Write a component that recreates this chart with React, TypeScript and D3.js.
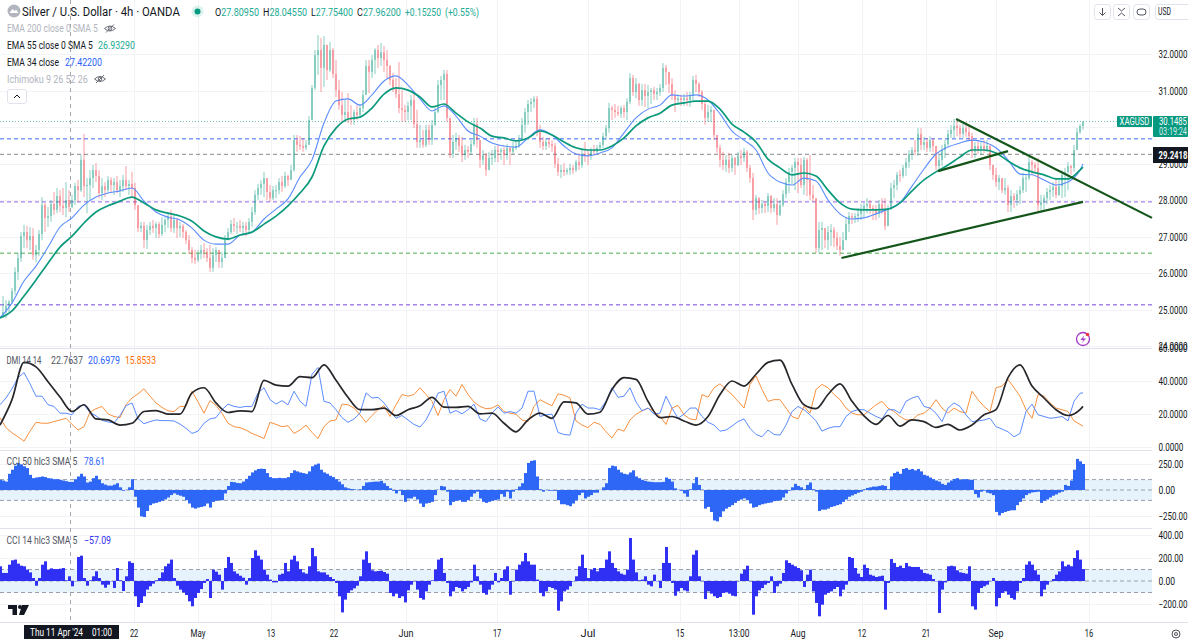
import * as d3 from 'd3';

// 4h candles, one entry per 3px column of the picture
const highs = [
  24.82,25.37,25.26,25.26,25.59,26.16,26.55,27.12,27.32,27.29,
  27.26,27.23,26.77,27.18,28.08,27.92,27.81,28.00,28.22,28.33,
  28.27,28.33,28.49,28.27,28.14,28.47,28.55,29.23,29.81,28.60,
  28.82,28.96,29.01,28.82,28.60,28.49,28.66,28.63,28.60,28.66,
  28.55,28.69,28.93,28.55,28.77,28.47,27.86,27.40,27.40,27.32,
  27.40,27.45,27.40,27.40,27.53,27.53,27.67,27.73,27.59,27.51,
  27.40,27.34,27.18,27.04,26.71,26.63,26.63,26.77,26.82,26.68,
  26.77,26.68,26.71,26.63,26.58,27.04,27.23,27.45,27.51,27.40,
  27.45,27.40,27.40,27.51,27.81,28.27,28.44,28.55,28.77,28.60,
  28.41,28.38,28.41,28.60,28.66,28.77,28.69,28.96,29.78,29.78,
  29.75,29.70,29.64,30.30,31.15,32.11,32.52,32.44,32.49,32.25,
  32.33,32.16,31.84,31.29,30.96,30.74,30.93,30.60,30.47,30.60,
  30.63,31.01,31.84,31.84,31.97,32.16,32.25,32.30,32.22,32.11,
  31.70,31.48,31.34,31.78,31.01,30.60,30.69,30.88,30.96,30.47,
  30.06,29.92,30.06,30.06,30.19,30.52,31.29,31.40,31.56,31.56,
  30.06,29.78,29.84,29.78,29.73,29.51,29.48,29.64,30.25,30.25,
  29.64,29.37,29.29,29.32,29.37,29.48,29.51,29.43,29.45,29.53,
  29.45,29.59,29.59,29.78,30.25,30.52,30.74,30.79,30.85,30.85,
  30.06,29.73,29.70,29.70,29.64,29.56,29.15,28.96,29.01,28.88,
  28.99,28.96,29.10,29.29,29.37,29.59,29.37,29.43,29.51,29.51,
  29.59,29.84,30.06,30.66,30.58,30.63,30.58,30.58,30.60,30.79,
  31.48,31.43,31.34,31.21,31.18,31.18,31.15,31.07,31.10,31.07,
  31.18,31.75,31.70,31.51,31.34,31.01,30.90,30.88,30.90,30.96,
  30.96,31.40,31.43,31.23,31.01,30.74,30.60,30.58,30.19,29.73,
  29.51,29.32,29.23,29.29,29.23,29.18,29.32,29.37,29.43,29.37,
  28.96,28.74,28.14,28.08,28.00,27.95,28.19,28.14,28.05,28.05,
  28.00,28.27,28.60,28.88,28.96,29.15,29.15,29.15,29.18,29.15,
  29.23,28.41,28.00,27.40,27.40,27.23,27.29,27.34,27.26,27.12,
  26.99,27.12,27.51,27.67,27.64,27.64,27.78,27.89,27.92,28.05,
  28.00,27.86,27.86,28.00,28.05,28.05,27.86,28.47,28.55,28.77,
  28.82,28.96,29.15,29.37,29.45,29.64,29.97,29.97,29.73,29.70,
  29.75,29.70,29.43,29.23,29.51,29.64,29.92,30.06,30.22,30.17,
  30.06,30.08,30.14,30.06,29.84,29.59,29.64,29.59,29.64,29.64,
  29.51,28.96,28.88,28.69,28.55,28.60,28.41,28.27,28.19,28.27,
  28.38,28.74,28.69,29.18,29.10,29.04,29.15,28.14,28.14,28.33,
  28.41,28.49,28.60,28.55,28.82,28.88,29.04,28.96,29.51,29.97,30.08,30.17,
];
const lows = [
  24.74,24.77,24.77,24.93,25.15,25.40,25.81,26.30,26.68,26.68,
  26.63,26.36,26.30,26.47,26.90,27.12,27.26,27.40,27.59,27.64,
  27.67,27.59,27.53,27.67,27.78,27.86,27.95,28.22,28.08,27.64,
  28.00,28.33,28.49,28.05,28.00,28.08,28.19,28.19,28.14,28.19,
  28.08,28.22,28.27,28.14,28.08,27.73,27.12,27.12,26.68,26.66,
  27.04,27.10,26.96,26.96,27.01,27.12,27.23,27.12,27.10,26.96,
  26.99,26.96,26.79,26.52,26.27,26.25,26.30,26.38,26.41,26.30,
  26.03,26.03,26.30,26.14,26.14,26.41,26.90,27.07,27.12,27.07,
  27.12,27.04,27.01,27.12,27.26,27.59,28.00,28.14,28.08,28.00,
  27.95,28.00,28.05,28.16,28.22,28.33,28.38,28.55,28.77,29.32,
  29.37,29.32,29.37,29.59,30.19,31.01,31.43,30.96,31.10,31.29,
  31.51,31.34,30.82,30.47,30.14,30.14,30.11,30.06,30.06,30.19,
  30.25,30.41,30.88,30.93,31.34,31.45,31.62,31.67,31.51,31.34,
  31.15,30.96,30.79,30.38,30.14,30.14,30.19,30.19,29.97,29.43,
  29.43,29.43,29.45,29.51,29.51,30.03,30.38,30.74,30.74,30.14,
  29.15,29.15,29.37,29.32,29.04,29.10,29.15,29.23,29.48,29.43,
  28.88,28.96,28.66,28.82,28.96,29.04,29.04,29.10,28.96,29.10,
  28.96,29.26,29.37,29.43,29.64,29.84,30.06,30.41,30.52,29.75,
  29.43,29.37,29.37,29.43,29.32,28.88,28.66,28.60,28.66,28.69,
  28.69,28.71,28.77,28.82,28.88,29.04,28.96,29.10,29.21,29.29,
  29.37,29.43,29.64,29.84,30.19,30.25,30.30,30.25,30.25,30.19,
  30.63,30.85,30.79,30.58,30.58,30.55,30.52,30.63,30.74,30.74,
  30.85,30.96,31.15,30.93,30.74,30.41,30.60,30.58,30.58,30.58,
  30.55,30.74,30.96,30.82,30.47,30.06,30.14,30.14,29.64,29.29,
  28.90,28.82,28.77,28.74,28.77,28.69,28.93,28.96,29.04,28.77,
  28.47,27.45,27.59,27.62,27.64,27.64,27.67,27.64,27.67,27.32,
  27.56,27.81,28.05,28.19,28.44,28.27,28.19,28.33,28.14,28.11,
  28.00,27.95,26.55,26.55,26.63,26.68,26.63,26.74,26.71,26.63,
  26.47,26.68,26.90,27.12,27.34,27.37,27.40,27.45,27.51,27.64,
  27.62,27.45,27.45,27.51,27.62,27.18,27.32,27.73,28.05,28.27,
  28.49,28.60,28.66,28.88,29.10,29.23,29.21,29.37,29.37,29.32,
  29.32,29.32,28.82,28.77,28.93,29.15,29.48,29.70,29.70,29.75,
  29.70,29.70,29.73,29.64,29.15,29.15,29.26,29.23,29.29,29.32,
  28.82,28.55,28.36,28.27,28.19,28.14,27.67,27.67,27.78,27.84,
  27.89,28.19,28.22,28.55,28.69,28.74,27.67,27.67,27.73,27.89,
  28.00,28.08,28.05,28.11,28.05,28.08,28.27,28.69,28.77,29.37,29.81,29.92,
];
const closes = [
  24.79,24.93,25.10,25.21,25.51,26.03,26.41,27.01,27.12,26.90,
  27.01,26.49,26.63,27.07,27.86,27.51,27.56,27.89,27.73,28.11,
  27.84,27.78,28.00,27.81,28.00,28.38,28.27,29.10,28.38,28.41,
  28.60,28.82,28.66,28.19,28.38,28.27,28.55,28.41,28.49,28.27,
  28.38,28.55,28.38,28.44,28.33,27.86,27.23,27.29,26.90,27.18,
  27.29,27.23,27.34,27.07,27.32,27.45,27.56,27.23,27.45,27.23,
  27.29,27.12,26.90,26.63,26.41,26.36,26.52,26.63,26.58,26.41,
  26.14,26.49,26.63,26.30,26.41,26.90,27.12,27.34,27.29,27.29,
  27.23,27.29,27.18,27.40,27.67,28.14,28.33,28.44,28.60,28.22,
  28.05,28.27,28.27,28.49,28.38,28.66,28.55,28.82,29.64,29.51,
  29.48,29.43,29.51,30.19,31.07,31.97,32.11,31.62,32.25,31.56,
  32.11,31.45,31.01,30.60,30.33,30.41,30.25,30.19,30.41,30.33,
  30.52,30.88,31.67,31.51,31.84,32.11,31.89,32.05,31.84,31.67,
  31.29,31.07,30.90,30.52,30.47,30.41,30.58,30.74,30.08,29.59,
  29.64,29.51,29.92,29.64,30.06,30.41,31.15,31.29,31.45,30.25,
  29.26,29.59,29.70,29.48,29.23,29.37,29.32,29.53,30.08,29.64,
  29.10,29.23,28.82,29.15,29.15,29.37,29.32,29.37,29.23,29.43,
  29.32,29.43,29.48,29.64,30.06,30.41,30.63,30.69,30.77,29.92,
  29.59,29.48,29.59,29.53,29.48,28.99,28.77,28.82,28.77,28.82,
  28.88,28.82,29.04,28.96,29.26,29.23,29.21,29.37,29.32,29.43,
  29.51,29.75,29.97,30.52,30.47,30.41,30.36,30.52,30.41,30.69,
  31.34,30.96,31.18,30.74,31.01,30.85,30.96,31.01,30.90,30.96,
  31.07,31.62,31.51,31.18,30.85,30.74,30.79,30.74,30.79,30.74,
  30.85,31.29,31.18,30.96,30.63,30.25,30.41,30.47,29.78,29.43,
  29.10,28.96,29.10,28.88,29.15,28.96,29.21,29.15,29.32,28.88,
  28.60,27.73,28.05,27.78,27.89,27.84,28.11,27.78,27.89,27.59,
  27.86,28.16,28.49,28.77,28.88,29.04,28.96,28.41,29.10,28.55,
  28.14,28.05,26.68,27.18,27.23,26.90,27.12,27.18,26.96,26.74,
  26.63,26.90,27.34,27.56,27.51,27.56,27.62,27.73,27.84,27.89,
  27.78,27.73,27.62,27.89,27.73,27.29,27.78,28.33,28.41,28.69,
  28.66,28.88,29.04,29.26,29.37,29.32,29.81,29.51,29.59,29.43,
  29.64,29.48,28.93,29.10,29.37,29.53,29.81,29.92,30.03,29.97,
  29.81,29.97,29.86,29.75,29.32,29.48,29.37,29.48,29.37,29.48,
  28.96,28.69,28.49,28.60,28.27,28.33,27.86,28.11,28.00,28.16,
  28.27,28.60,28.60,29.04,28.96,28.88,27.86,27.95,28.05,28.22,
  28.27,28.36,28.14,28.38,28.69,28.77,28.93,28.88,29.37,29.86,30.03,30.14,
];

// EMAs, every 4th candle
const ema55 = [
  24.77,24.96,25.37,25.81,26.27,26.71,27.01,27.37,27.67,27.84,
  27.97,28.08,27.92,27.73,27.64,27.56,27.42,27.15,26.99,26.93,
  27.04,27.12,27.34,27.56,27.84,28.19,28.63,29.48,29.97,30.22,
  30.27,30.52,30.90,31.07,31.01,30.82,30.55,30.63,30.38,30.14,
  29.97,29.75,29.70,29.62,29.70,29.89,29.78,29.59,29.43,29.37,
  29.37,29.48,29.70,30.03,30.25,30.38,30.60,30.66,30.71,30.71,
  30.49,30.08,29.86,29.59,29.12,28.88,28.69,28.74,28.66,28.27,
  27.92,27.75,27.73,27.73,27.75,27.92,28.25,28.55,28.77,28.96,
  29.18,29.37,29.37,29.29,29.07,28.88,28.77,28.69,28.58,28.58,
  28.82,28.90,
];
const ema34 = [
  24.77,25.18,25.78,26.19,26.71,27.26,27.51,27.86,28.08,28.19,
  28.25,28.33,27.97,27.67,27.53,27.45,27.23,26.90,26.79,26.79,
  27.04,27.12,27.48,27.75,28.03,28.63,29.10,30.11,30.71,30.77,
  30.60,30.88,31.26,31.40,31.15,30.77,30.44,30.58,30.30,29.89,
  29.75,29.56,29.48,29.45,29.70,29.92,29.78,29.48,29.26,29.21,
  29.29,29.43,29.84,30.25,30.49,30.60,30.88,30.85,30.88,30.74,
  30.36,29.89,29.64,29.37,28.74,28.49,28.41,28.60,28.52,28.00,
  27.62,27.48,27.51,27.62,27.75,27.92,28.38,28.85,29.26,29.45,
  29.56,29.64,29.59,29.43,29.10,28.71,28.69,28.55,28.41,28.49,
  28.82,28.99,
];

// DMI: ADX every 4th candle, +DI and -DI every 2nd candle
const adx = [
  13.3,28.7,51.3,48.6,39.6,30.3,21.5,25.6,17.0,16.4,
  13.3,14.4,21.5,22.1,19.9,19.9,32.8,35.9,26.7,20.9,
  21.9,21.5,40.4,37.5,36.9,42.6,42.0,49.8,40.4,30.1,
  22.6,22.6,23.6,19.1,22.6,25.0,30.1,24.2,24.0,24.6,
  20.1,20.5,14.4,9.2,16.4,20.5,17.4,27.3,26.7,19.9,
  21.1,34.9,42.0,41.0,27.7,17.8,18.5,15.8,13.3,18.5,
  31.8,40.0,36.9,44.1,51.3,52.7,37.9,25.6,23.2,31.8,
  38.3,27.7,18.9,13.7,19.1,12.7,16.4,15.4,11.9,13.7,
  10.3,13.3,19.5,22.6,42.0,49.8,36.9,29.7,22.6,19.1,
  22.6,24.6,
];
const plusDI = [
  25.6,29.7,35.3,42.0,45.1,38.3,30.8,30.8,25.6,24.6,
  20.5,20.5,19.5,24.6,25.6,20.9,18.9,16.2,15.2,14.6,
  19.1,25.0,26.7,17.2,14.1,15.4,16.4,16.0,16.0,15.8,
  13.9,11.3,8.2,9.6,14.4,17.0,17.8,22.6,26.0,24.6,
  24.0,24.6,24.6,32.8,35.9,28.7,26.0,28.1,25.6,33.8,
  27.7,24.6,44.1,48.2,27.7,26.7,22.6,17.8,15.0,17.0,
  20.5,32.8,29.7,30.1,26.7,21.9,17.4,19.1,16.4,13.7,
  12.1,16.4,23.6,32.6,33.8,20.5,22.1,20.1,22.6,26.0,
  17.0,15.4,20.5,24.4,20.5,21.5,20.5,23.6,33.8,33.8,
  18.5,19.5,19.9,8.8,7.6,7.2,20.5,26.0,23.6,
  23.6,22.6,27.7,35.9,30.1,30.8,35.9,27.3,21.9,23.6,
  19.9,20.5,30.8,23.6,17.4,19.9,23.6,23.6,18.5,15.0,
  13.3,9.6,10.3,12.7,15.4,17.0,11.3,7.6,6.2,10.3,
  7.6,7.2,13.3,21.5,24.6,22.6,19.5,15.8,9.6,11.3,
  12.3,12.3,18.5,21.5,22.6,22.6,20.5,18.5,17.0,22.6,
  22.6,20.5,27.7,29.7,30.8,24.6,23.6,20.5,15.4,23.6,
  26.7,24.6,19.5,15.4,15.8,16.4,17.4,12.3,10.9,9.2,
  6.2,8.2,21.5,26.0,19.5,18.5,17.4,17.8,18.5,15.8,
  27.7,32.6,32.8,
];
const minusDI = [
  17.8,11.7,8.6,6.2,3.5,9.6,15.0,14.4,14.4,15.4,
  16.4,17.4,13.7,10.3,12.3,21.1,23.2,24.6,20.1,18.5,
  17.8,25.6,29.7,32.2,35.3,30.8,26.7,24.0,21.9,21.5,
  24.6,24.6,33.8,27.3,20.5,28.1,25.2,20.5,14.4,12.3,
  11.7,10.3,8.2,6.8,5.1,15.0,13.7,12.3,12.9,8.2,
  10.3,13.3,8.8,5.1,12.3,15.8,16.4,26.0,25.6,23.6,
  19.5,15.0,19.1,22.6,25.0,18.5,25.6,31.8,30.8,31.8,
  35.9,31.8,27.7,19.1,28.7,34.9,30.8,37.9,31.8,27.3,
  24.6,23.2,23.6,25.6,21.5,20.5,19.9,16.4,15.4,24.6,
  28.7,26.7,25.0,32.2,31.4,29.7,15.8,13.3,11.7,
  15.0,13.7,9.2,5.5,10.9,9.6,16.4,19.9,21.9,23.6,
  21.5,18.5,13.7,23.6,25.2,19.5,17.0,16.4,31.8,30.1,
  35.9,38.3,34.9,31.8,27.7,23.6,37.9,43.1,34.9,27.7,
  28.7,28.7,23.6,18.5,17.0,24.6,20.5,34.9,37.9,35.9,
  31.8,28.7,23.6,20.5,19.5,19.5,22.6,25.6,27.7,23.6,
  21.5,18.5,16.4,16.4,19.5,20.5,23.6,28.7,23.6,20.5,
  23.6,21.5,20.5,33.8,28.7,24.6,21.5,35.9,36.9,41.0,
  35.9,30.8,22.6,17.4,31.8,30.8,26.7,23.6,22.6,21.5,
  15.8,13.7,12.7,
];

const cci50 = [
  98,91,81,156,195,234,260,247,228,211,
  146,114,120,124,130,124,114,111,104,104,
  98,91,85,78,78,104,130,156,130,72,
  81,114,137,98,65,52,42,42,52,65,
  26,-7,2,26,104,-65,-169,-254,-260,-202,
  -146,-130,-124,-114,-104,-91,-72,-49,-33,-46,
  -55,-65,-98,-130,-169,-179,-169,-163,-156,-130,
  -169,-114,-104,-98,-98,-33,39,78,75,68,
  65,81,107,137,169,189,202,205,202,163,
  124,114,114,117,114,114,124,163,189,179,
  169,163,156,179,228,244,254,195,169,156,
  137,124,104,81,55,26,16,10,7,2,
  7,39,72,75,78,81,81,88,65,39,
  16,-7,-33,-7,-49,-114,-81,-81,-65,-91,
  -130,-163,-130,-124,-114,-49,2,39,33,-16,
  -146,-114,-104,-98,-114,-114,-98,-65,-33,-16,
  -81,-114,-124,-114,-104,-98,-91,-39,-65,-16,
  -81,-16,7,33,65,163,260,280,286,130,
  7,-16,2,-7,-7,-7,-98,-137,-137,-146,
  -156,-130,-98,-49,-26,-81,-65,-49,-26,-26,
  2,26,65,211,234,228,195,169,156,150,
  169,189,130,114,98,88,81,78,75,75,
  75,78,120,107,81,16,2,-7,-33,-65,
  7,65,124,49,2,-179,-163,-211,-293,-302,
  -260,-205,-179,-163,-146,-124,-104,-91,-81,-98,
  -130,-169,-163,-146,-137,-130,-124,-120,-107,-104,
  -98,-72,-33,-7,26,59,39,26,7,49,
  72,7,-16,-202,-189,-189,-179,-163,-156,-146,
  -137,-114,-91,-65,-52,-39,-26,-16,7,20,
  26,33,33,39,46,39,7,130,163,176,
  156,202,211,195,202,189,202,179,146,137,
  120,104,91,81,59,49,72,91,107,114,
  98,104,104,98,98,-39,-72,-16,-7,-26,
  -33,-49,-211,-244,-221,-211,-202,-195,-195,-146,
  -114,-81,-49,-33,-23,-20,-16,-124,-104,-91,
  -72,-55,-42,-26,-16,49,39,91,195,299,276,250,
];
const cci14 = [
  128,70,70,142,180,186,151,133,128,99,
  75,26,-41,26,142,171,99,110,104,104,
  107,113,6,41,-46,-3,209,220,26,-41,
  6,41,84,26,-32,-58,-32,-3,-61,113,
  6,-87,41,171,157,-133,-226,-191,-133,-75,
  -46,-23,6,26,75,128,151,186,26,-41,
  -75,-99,-122,-177,-220,-148,-104,-70,-17,17,
  -148,99,81,55,-75,113,209,157,84,64,
  46,29,-32,26,200,267,220,186,99,55,
  12,-12,-12,55,64,157,84,186,220,171,
  104,75,64,128,287,215,84,75,75,55,
  35,17,-17,-133,-273,-162,-104,-81,-64,-41,
  41,186,258,157,93,84,87,90,78,64,
  -104,-133,-110,-148,-133,-186,-81,-32,-3,-75,
  -148,-162,-90,-32,6,99,186,200,70,-17,
  -133,-90,-52,-61,-90,-70,-52,-12,142,41,
  -32,-104,-119,-75,-32,70,-12,26,99,128,
  -119,-3,99,142,171,244,171,142,142,12,
  -104,-133,-90,-52,-61,-75,-258,-177,-90,-75,
  -46,-3,41,128,229,113,26,99,113,84,
  113,113,186,258,157,113,84,64,55,99,
  374,186,75,6,12,41,-32,-46,55,-3,
  -61,157,296,157,-17,-128,-90,-61,-81,-90,
  41,229,267,41,-3,-157,-90,-110,-133,-148,
  -139,-104,-99,-110,-128,-133,-3,64,99,133,
  -3,-293,-133,-81,-61,-32,-17,41,-104,-46,
  -23,70,180,157,142,128,113,93,-52,55,
  99,-90,-191,-307,-206,-119,-104,-90,-70,-52,
  -133,-75,-32,209,200,113,64,35,142,113,
  55,46,35,41,46,-249,-17,191,157,122,
  133,113,157,128,122,122,122,99,70,64,
  55,17,-3,-278,-75,-12,128,133,128,93,
  75,70,64,128,-220,-249,-104,-61,-46,-32,
  -3,26,-220,-148,-104,-90,-119,-148,-162,-90,
  -17,26,142,171,142,93,55,-133,-75,-32,
  -3,17,55,84,171,128,142,128,200,267,186,104,
];

const priceTicks = [32, 31, 30, 29, 28, 27, 26, 25, 24];
const dmiTicks = [60, 40, 20, 0];
const cci50Ticks = [250, 0, -250];
const cci14Ticks = [400, 200, 0, -200];
const timeLabels = ['22', 'May', '13', '22', 'Jun', '17', 'Jul', '15', '13:00', 'Aug', '12', '21', 'Sep', '16'];
const timeBars = [44.7, 66, 90.3, 111.3, 135.3, 165.7, 196, 226.7, 246.3, 266, 287.3, 308.7, 332, 363];
const crosshairBar = 23.5;

const levelPrices = [29.68, 29.25, 27.95, 26.54, 25.13];
const levelColors = ['#7f9bff', '#a0a0a0', '#a583ea', '#85c988', '#a583ea'];
const lastPrice = 30.1485;

// drawn trend lines as [bar, price] pairs
const trendLines = [
  [[318.7, 30.22], [384, 27.51]],
  [[280.5, 26.41], [361, 27.95]],
  [[312.7, 28.79], [336, 29.34]],
];

const W = 1188;
const H = 639;
const plotRight = 1152;
const FONT = 'Roboto, sans-serif';
const UP = '#089981';
const DOWN = '#f23645';
const BLUE = '#5b8cff';
const AXIS_CHAR = 4.15;

const x = d3.scaleLinear().domain([0, 361]).range([0, 1083]);
const yPrice = d3.scaleLinear().domain([24, 32]).range([346, 54]);
const yDmi = d3.scaleLinear().domain([0, 60]).range([447, 348]);
const yCci50 = d3.scaleLinear().domain([-250, 250]).range([516, 464]);
const yCci14 = d3.scaleLinear().domain([-200, 400]).range([604, 535]);

function seriesLine(
  values: number[],
  stride: number,
  y: d3.ScaleLinear<number, number>,
  curve: d3.CurveFactory = d3.curveLinear,
) {
  return d3
    .line<number>()
    .x((_, i) => x(Math.min(i * stride, 361)))
    .y((v) => y(v))
    .curve(curve)(values) as string;
}

// the reference's text is squeezed sideways, so each label is scaled to its measured width
function Fit({ x: tx, y: ty, w, children, ...rest }: any) {
  const fit = (el: SVGTextElement | null) => {
    if (!el) return;
    const natural = el.getComputedTextLength();
    el.setAttribute('transform', `translate(${tx},${ty}) scale(${w / natural},1)`);
  };
  return (
    <text ref={fit} {...rest}>
      {children}
    </text>
  );
}

function AxisLabels({ ticks, y, digits }: { ticks: number[]; y: d3.ScaleLinear<number, number>; digits: number }) {
  return (
    <g fontSize={10.5} fill="#131722">
      {ticks.map((t) => {
        const label = t.toFixed(digits).replace('-', '\u2212');
        return (
          <Fit key={t} x={1158.5} y={y(t) + 4} w={label.length * AXIS_CHAR}>
            {label}
          </Fit>
        );
      })}
    </g>
  );
}

function Grid({ ticks, y }: { ticks: number[]; y: d3.ScaleLinear<number, number> }) {
  return (
    <g stroke="#f2f3f6">
      {ticks.map((t) => (
        <line key={t} x1={0} x2={plotRight} y1={Math.round(y(t)) + 0.5} y2={Math.round(y(t)) + 0.5} />
      ))}
    </g>
  );
}

function CciPane({ values, y, color }: { values: number[]; y: d3.ScaleLinear<number, number>; color: string }) {
  return (
    <g>
      <rect x={0} width={plotRight} y={y(100)} height={y(-100) - y(100)} fill="#e6f3fd" />
      {[100, 0, -100].map((t) => (
        <line key={t} x1={0} x2={plotRight} y1={y(t)} y2={y(t)} stroke="#9a9ea8" strokeDasharray="4 3" />
      ))}
      {values.map((v, i) => (
        <rect
          key={i}
          x={x(i) - 1}
          width={3}
          y={Math.min(y(v), y(0))}
          height={Math.abs(y(v) - y(0))}
          fill={color}
        />
      ))}
    </g>
  );
}

function Button({ bx, children }: { bx: number; children: React.ReactNode }) {
  return (
    <g transform={`translate(${bx},4)`}>
      <rect x={0.5} y={0.5} width={16} height={15} rx={3} fill="#fff" stroke="#e0e3eb" />
      {children}
    </g>
  );
}

function EyeOff({ ex, ey }: { ex: number; ey: number }) {
  return (
    <g transform={`translate(${ex},${ey})`} fill="none" stroke="#6a6d78">
      <path d="M-5.5 0 Q0 -5 5.5 0 Q0 5 -5.5 0Z" />
      <circle r={1.8} />
      <path d="M-4 4 L4 -4" />
    </g>
  );
}

export default function App() {
  return (
    <svg
      width={W}
      height={H}
      viewBox={`0 0 ${W} ${H}`}
      style={{ position: 'fixed', left: 0, top: 0, background: '#fff' }}
      fontFamily={FONT}
    >
      <Grid ticks={priceTicks} y={yPrice} />
      <Grid ticks={dmiTicks.slice(1)} y={yDmi} />
      <Grid ticks={cci50Ticks} y={yCci50} />
      <Grid ticks={cci14Ticks} y={yCci14} />
      <g stroke="#f2f3f6">
        {timeBars.map((b, i) => (
          <line key={i} x1={Math.round(x(b)) + 0.5} x2={Math.round(x(b)) + 0.5} y1={0} y2={622} />
        ))}
      </g>

      {/* pane separators */}
      <g stroke="#e0e3eb">
        <line x1={0} x2={plotRight} y1={348.5} y2={348.5} />
        <line x1={0} x2={plotRight} y1={450.5} y2={450.5} />
        <line x1={0} x2={plotRight} y1={528.5} y2={528.5} />
        <line x1={0} x2={W} y1={622.5} y2={622.5} />
      </g>

      {/* price levels */}
      {levelPrices.map((p, i) => (
        <line
          key={p}
          x1={0}
          x2={plotRight}
          y1={yPrice(p)}
          y2={yPrice(p)}
          stroke={levelColors[i]}
          strokeWidth={1.4}
          strokeDasharray="4 3"
        />
      ))}
      <line
        x1={0}
        x2={plotRight}
        y1={yPrice(lastPrice)}
        y2={yPrice(lastPrice)}
        stroke={UP}
        strokeOpacity={0.6}
        strokeDasharray="1 2"
      />

      <line x1={x(crosshairBar)} x2={x(crosshairBar)} y1={0} y2={622} stroke="#a3a6af" strokeDasharray="4 4" />

      {/* candles */}
      <g opacity={0.48}>
        {closes.map((c, i) => {
          const open = i === 0 ? c : closes[i - 1];
          const fill = c >= open ? UP : DOWN;
          return (
            <g key={i} fill={fill}>
              <rect x={x(i) - 0.5} width={1} y={yPrice(highs[i])} height={yPrice(lows[i]) - yPrice(highs[i])} />
              <rect
                x={x(i) - 1}
                width={2}
                y={yPrice(Math.max(open, c))}
                height={Math.max(1, Math.abs(yPrice(open) - yPrice(c)))}
              />
            </g>
          );
        })}
      </g>

      <path d={seriesLine(ema34, 4, yPrice, d3.curveMonotoneX)} fill="none" stroke={BLUE} strokeWidth={1.1} />
      <path d={seriesLine(ema55, 4, yPrice, d3.curveMonotoneX)} fill="none" stroke="#0c9a7d" strokeWidth={1.7} />

      {trendLines.map((l, i) => (
        <line
          key={i}
          x1={x(l[0][0])}
          y1={yPrice(l[0][1])}
          x2={x(l[1][0])}
          y2={yPrice(l[1][1])}
          stroke="#14561a"
          strokeWidth={2.2}
        />
      ))}

      {/* DMI */}
      <path d={seriesLine(minusDI, 2, yDmi)} fill="none" stroke="#f9913f" strokeWidth={1} />
      <path d={seriesLine(plusDI, 2, yDmi)} fill="none" stroke={BLUE} strokeWidth={1} />
      <path d={seriesLine(adx, 4, yDmi, d3.curveMonotoneX)} fill="none" stroke="#26262b" strokeWidth={1.7} />

      <CciPane values={cci50} y={yCci50} color="#2e67f6" />
      <CciPane values={cci14} y={yCci14} color="#3030f5" />

      {/* header */}
      <circle cx={14} cy={11} r={6.5} fill="#b2b5be" />
      <path d="M9.5 13 L12.5 9 L14.5 11 L16 9.5 L18.5 13Z" fill="#fff" />
      <Fit x={22} y={16} w={158} fontSize={13} fill="#131722">
        Silver / U.S. Dollar · 4h · OANDA
      </Fit>
      <circle cx={197.5} cy={11.5} r={6} fill="#dcf2ec" />
      <circle cx={197.5} cy={11.5} r={3} fill={UP} />
      <g fontSize={11} fill="#22ab94">
        <Fit x={215} y={15.5} w={44}><tspan fill="#131722">O</tspan>27.80950</Fit>
        <Fit x={263} y={15.5} w={44}><tspan fill="#131722">H</tspan>28.04550</Fit>
        <Fit x={311} y={15.5} w={42}><tspan fill="#131722">L</tspan>27.75400</Fit>
        <Fit x={357} y={15.5} w={44}><tspan fill="#131722">C</tspan>27.96200</Fit>
        <Fit x={405} y={15.5} w={36}>+0.15250</Fit>
        <Fit x={445} y={15.5} w={34}>(+0.55%)</Fit>
      </g>

      {/* indicator legend */}
      <g fontSize={10.5} fill="#131722">
        <Fit x={7} y={32} w={91} fill="#b2b5be">EMA 200 close 0 SMA 5</Fit>
        <EyeOff ex={110} ey={28.5} />
        <Fit x={7} y={49} w={86}>EMA 55 close 0 SMA 5</Fit>
        <Fit x={98} y={49} w={37} fill="#22ab94">26.93290</Fit>
        <Fit x={7} y={66} w={52}>EMA 34 close</Fit>
        <Fit x={65} y={66} w={37} fill="#2962ff">27.42200</Fit>
        <Fit x={7} y={83} w={81} fill="#b2b5be">Ichimoku 9 26 52 26</Fit>
        <EyeOff ex={100} ey={79} />
        <rect x={7.5} y={89.5} width={19} height={14} rx={2.5} fill="#fff" stroke="#e0e3eb" />
        <path d="M14 98 L17 95 L20 98" fill="none" stroke="#131722" />
        <g fill="#50535e">
          <Fit x={6.5} y={364} w={35}>DMI 14 14</Fit>
          <Fit x={51} y={364} w={32}>22.7637</Fit>
          <Fit x={88} y={364} w={32} fill="#2962ff">20.6979</Fit>
          <Fit x={125} y={364} w={31} fill="#ff6d00">15.8533</Fit>
          <Fit x={6.5} y={465} w={71}>CCI 50 hlc3 SMA 5</Fit>
          <Fit x={84} y={465} w={21} fill="#2962ff">78.61</Fit>
          <Fit x={6.5} y={544} w={71}>CCI 14 hlc3 SMA 5</Fit>
          <Fit x={84} y={544} w={27} fill="#3030f5">−57.09</Fit>
        </g>
      </g>

      {/* top right buttons */}
      <Button bx={1094}>
        <path d="M8.5 4 V11 M5.5 8.5 L8.5 11.5 L11.5 8.5" fill="none" stroke="#50535e" />
      </Button>
      <Button bx={1113}>
        <path d="M5 4 L8.5 7 L12 4 M5 12 L8.5 9 L12 12" fill="none" stroke="#50535e" />
      </Button>
      <Button bx={1133}>
        <rect x={4} y={5} width={9} height={6} rx={3} fill="none" stroke="#50535e" />
      </Button>
      <rect x={1155.5} y={4.5} width={40} height={15} rx={3} fill="#fff" stroke="#e0e3eb" />
      <Fit x={1158} y={15} w={13} fontSize={10} fill="#131722">USD</Fit>

      {/* price axis */}
      <AxisLabels ticks={priceTicks} y={yPrice} digits={4} />
      <AxisLabels ticks={dmiTicks} y={yDmi} digits={4} />
      <AxisLabels ticks={cci50Ticks} y={yCci50} digits={2} />
      <AxisLabels ticks={cci14Ticks} y={yCci14} digits={2} />

      <rect x={1117} y={116} width={35} height={11} rx={1} fill={UP} />
      <Fit x={1119.5} y={125} w={30} fontSize={10} fill="#fff">XAGUSD</Fit>
      <rect x={1153} y={116} width={35} height={21} rx={1} fill={UP} />
      <Fit x={1159} y={125} w={28} fontSize={10.5} fill="#fff">30.1485</Fit>
      <Fit x={1159} y={135} w={28} fontSize={10} fill="#d8f0ea">03:19:24</Fit>
      <rect x={1153} y={147} width={35} height={16} fill="#131722" />
      <Fit x={1158.5} y={159} w={29} fontSize={10.5} fontWeight={700} fill="#fff">29.2418</Fit>

      {/* time axis */}
      <g fontSize={10.5} fill="#131722" textAnchor="middle">
        {timeLabels.map((t, i) => (
          <Fit key={i} x={x(timeBars[i])} y={637} w={t.length === 3 ? 15 : t.length * 4.2}>
            {t}
          </Fit>
        ))}
      </g>
      <rect x={24} y={625} width={95} height={14} fill="#131722" />
      <Fit x={30} y={636} w={53} fontSize={10.5} fill="#fff">Thu 11 Apr '24</Fit>
      <Fit x={92} y={636} w={20} fontSize={10.5} fill="#fff">01:00</Fit>

      {/* logo and stray icons */}
      <path d="M8 605 H17 V615 H12.5 V609 H8Z M22 605 H29 L24 615 H19Z" fill="#131722" />
      <circle cx={20} cy={607} r={2} fill="#131722" />
      <circle cx={1083} cy={339} r={6.5} fill="#fff" stroke="#a436c9" strokeWidth={1.3} />
      <path d="M1084.5 335 L1080.5 340 H1083.5 L1081.5 343.5 L1086 338.5 H1083Z" fill="#a436c9" />
      <circle cx={1087.5} cy={334.5} r={1.8} fill="#f23645" />
      <circle cx={1176} cy={634} r={4} fill="none" stroke="#50535e" />
      <circle cx={1176} cy={634} r={1.5} fill="none" stroke="#50535e" />
    </svg>
  );
}
